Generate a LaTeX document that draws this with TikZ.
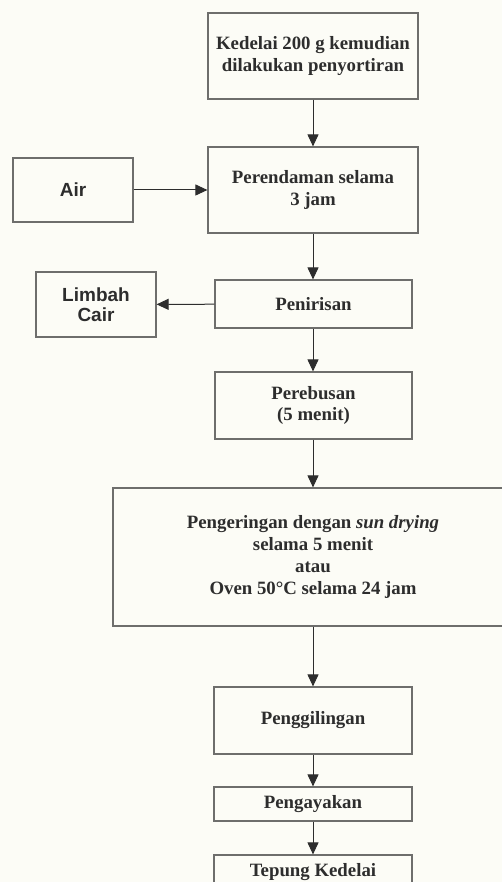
\documentclass[tikz,border=0pt]{standalone}
\usepackage{fontspec}
\setmainfont{Liberation Serif}
\newfontfamily\sansbold{Liberation Sans}[BoldFont={Liberation Sans Bold}]
\usetikzlibrary{arrows.meta}
\definecolor{paper}{RGB}{252,252,246}
\definecolor{edge}{RGB}{110,110,108}
\definecolor{ink}{RGB}{45,45,45}
\tikzset{
  procbox/.style={draw=edge, line width=1.2pt, fill=paper, text=ink, align=center,
    inner sep=2pt, font=\fontsize{18.8}{21.8}\selectfont\bfseries},
  sidebox/.style={procbox, font=\fontsize{19}{20.5}\selectfont\sansbold\bfseries},
  flow/.style={draw=ink, line width=1pt, -{Triangle[width=11pt,length=12pt]}}
}
\begin{document}
\begin{tikzpicture}[x=1pt,y=-1pt]
  \useasboundingbox (0,0) rectangle (502,882);
  \clip (0,0) rectangle (502,882);
  \fill[paper] (0,0) rectangle (502,882);

  % main process chain
  \node[procbox, minimum width=210pt, minimum height=86pt] (sort) at (313,56)
    {Kedelai 200 g kemudian\\dilakukan penyortiran};
  \node[procbox, minimum width=210pt, minimum height=86pt] (soak) at (313,190)
    {Perendaman selama\\3 jam};
  \node[procbox, minimum width=197pt, minimum height=48pt] (drain) at (313.5,304)
    {Penirisan};
  \node[procbox, minimum width=197pt, minimum height=67pt] (boil) at (313.5,405.5)
    {Perebusan\\(5 menit)};
  \node[procbox, minimum width=400pt, minimum height=138pt] (dry) at (313,557)
    {Pengeringan dengan \textit{sun drying}\\selama 5 menit\\atau\\Oven 50°C selama 24 jam};
  \node[procbox, minimum width=198pt, minimum height=67pt] (mill) at (313,720.5)
    {Penggilingan};
  \node[procbox, minimum width=198pt, minimum height=34pt] (sieve) at (313,804)
    {Pengayakan};
  \node[procbox, minimum width=198pt, minimum height=34pt] (flour) at (313,872)
    {Tepung Kedelai};

  % side inputs and outputs
  \node[sidebox, minimum width=120pt, minimum height=64pt] (water) at (73,190) {Air};
  \node[sidebox, minimum width=120pt, minimum height=65pt] (waste) at (96,304.5)
    {Limbah\\Cair};

  % connectors
  \draw[flow] (sort) -- (soak);
  \draw[flow] (water) -- (soak);
  \draw[flow] (soak) -- (soak |- drain.north);
  \draw[flow] (drain) -- (waste);
  \draw[flow] (drain.south -| soak) -- (soak |- boil.north);
  \draw[flow] (boil.south -| soak) -- (soak |- dry.north);
  \draw[flow] (dry.south) -- (mill);
  \draw[flow] (mill) -- (sieve);
  \draw[flow] (sieve) -- (flour);
\end{tikzpicture}
\end{document}
